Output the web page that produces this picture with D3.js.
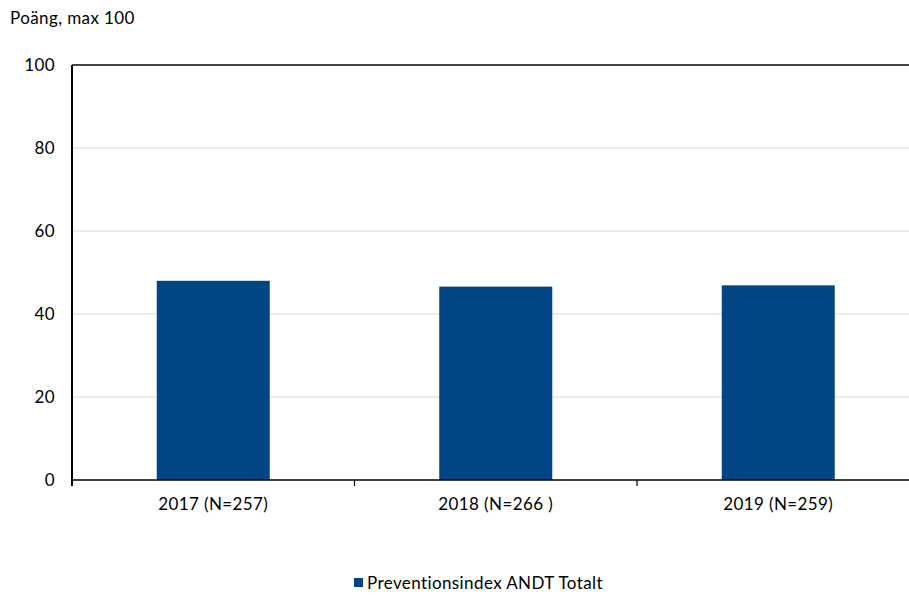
<!DOCTYPE html>
<html>
<head>
<meta charset="utf-8">
<script src="https://cdn.jsdelivr.net/npm/d3@7"></script>
<style>
  body { margin: 0; background: #fff; }
  text { font-family: "Lato", "Open Sans", sans-serif; fill: #000; font-size: 17px; letter-spacing: 0.4px; }
</style>
</head>
<body>
<svg id="chart" width="909" height="595"></svg>
<script>
var categories = ["2017 (N=257)", "2018 (N=266 )", "2019 (N=259)"];
var values = [48.0, 46.6, 46.9];
var yTicks = [0, 20, 40, 60, 80, 100];
var seriesName = "Preventionsindex ANDT Totalt";
var yTitle = "Poäng, max 100";

(function () {
    var svg = d3.select("#chart"),
        margin = { top: 65, left: 72 },
        width = 847.5,
        height = 415,
        g = svg.append("g").attr("transform", "translate(" + margin.left + "," + margin.top + ")");

    var barColor = "#004584";

    var x = d3.scaleBand().domain(categories).range([0, width]).paddingInner(0.6).paddingOuter(0.3);
    var xb = d3.scaleBand().domain(categories).range([0, width]);
    var y = d3.scaleLinear().domain([0, 100]).range([height, 0]);

    // gridlines
    g.selectAll(".grid")
        .data(yTicks.filter(function (d) { return d > 0 && d < 100; }))
        .enter().append("line")
        .attr("x1", 0).attr("x2", width)
        .attr("y1", function (d) { return y(d); })
        .attr("y2", function (d) { return y(d); })
        .attr("stroke", "#d9d9d9").attr("stroke-width", 1.2);

    // top border
    g.append("line")
        .attr("x1", 0).attr("x2", width)
        .attr("y1", y(100)).attr("y2", y(100))
        .attr("stroke", "#444").attr("stroke-width", 2);

    // bars
    g.selectAll(".bar")
        .data(values)
        .enter().append("rect")
        .attr("class", "bar")
        .attr("x", function (d, i) { return x(categories[i]); })
        .attr("width", x.bandwidth())
        .attr("y", function (d) { return y(d); })
        .attr("height", function (d) { return height - y(d); })
        .attr("fill", barColor);

    // x axis
    var xAxis = g.append("g").attr("transform", "translate(0," + height + ")");
    xAxis.append("line").attr("x1", 0).attr("x2", width).attr("stroke", "#000").attr("stroke-width", 1.5);
    xAxis.selectAll(".tk")
        .data(categories.slice(1))
        .enter().append("line")
        .attr("x1", function (d) { return xb(d); })
        .attr("x2", function (d) { return xb(d); })
        .attr("y1", 0).attr("y2", 6)
        .attr("stroke", "#000").attr("stroke-width", 1.2);
    xAxis.selectAll(".lbl")
        .data(categories)
        .enter().append("text")
        .attr("x", function (d) { return xb(d) + xb.bandwidth() / 2; })
        .attr("y", 30)
        .attr("text-anchor", "middle")
        .text(function (d) { return d; });

    // y axis
    var yAxis = g.append("g");
    yAxis.append("line").attr("x1", 0).attr("x2", 0)
        .attr("y1", 0).attr("y2", height + 6)
        .attr("stroke", "#000").attr("stroke-width", 2);
    yAxis.selectAll(".ylbl")
        .data(yTicks)
        .enter().append("text")
        .attr("x", -17)
        .attr("y", function (d) { return y(d); })
        .attr("dy", "0.36em")
        .attr("text-anchor", "end")
        .text(function (d) { return d; });

    // axis title
    svg.append("text")
        .attr("x", 10).attr("y", 24)
        .text(yTitle);

    // legend
    var legend = svg.append("g").attr("transform", "translate(354,578)");
    legend.append("rect").attr("width", 9).attr("height", 9).attr("fill", barColor);
    legend.append("text").attr("x", 13).attr("y", 11)
        .text(seriesName);
})();
</script>
</body>
</html>
